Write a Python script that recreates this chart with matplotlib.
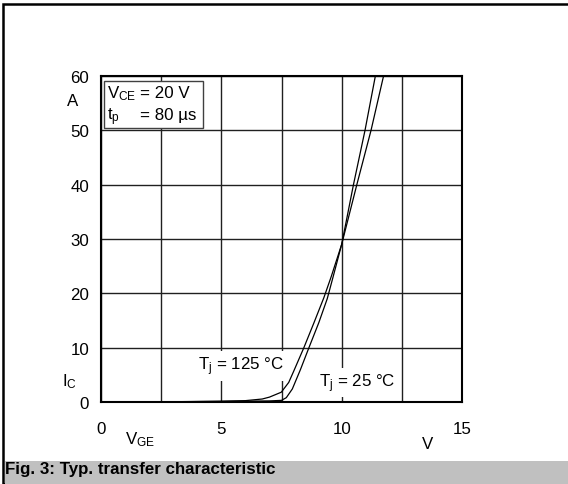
import matplotlib
matplotlib.use("Agg")
import matplotlib.pyplot as plt
from matplotlib.patches import Rectangle

plt.rcParams["font.family"] = ["Liberation Sans", "DejaVu Sans"]
plt.rcParams["mathtext.fontset"] = "custom"
plt.rcParams["mathtext.rm"] = "Liberation Sans"
plt.rcParams["mathtext.it"] = "Liberation Sans"

# Typ. transfer characteristic
vge_25 = [0, 3, 5, 6, 7.0, 7.5, 7.7, 7.95, 8.29, 8.64, 9.05, 9.4, 9.63, 10.0, 10.49, 10.97, 11.40, 11.5]
ic_25 = [0, 0.05, 0.1, 0.15, 0.2, 0.3, 0.8, 2.4, 6.0, 10, 14.6, 19.0, 22.8, 29, 40, 50, 60, 62]

vge_125 = [0, 3, 5, 6, 6.7, 7.0, 7.49, 7.8, 8.01, 8.43, 8.85, 9.26, 9.56, 10.0, 10.63, 11.22, 11.74, 11.85]
ic_125 = [0, 0.05, 0.15, 0.25, 0.55, 0.9, 1.8, 3.6, 5.7, 10, 14.6, 19.2, 23.0, 29, 40, 50, 60, 62]

x_ticks = [0, 5, 10, 15]
y_ticks = [0, 10, 20, 30, 40, 50, 60]

W, H = 568, 485
FS = 12.2


def fx(x):
    return x / W


def fy(y):
    return (H - y) / H


fig = plt.figure(figsize=(W / 100, H / 100), dpi=100)

# Rahmen + graue Bildunterschrift
fig.patches.append(Rectangle((fx(3.5), fy(485)), 1.0, fy(5) - fy(485),
                             transform=fig.transFigure, fill=False,
                             edgecolor="black", linewidth=1.8))
fig.patches.append(Rectangle((fx(4.5), 0), 1.0, fy(462),
                             transform=fig.transFigure, facecolor="#c0c0c0",
                             edgecolor="none"))
fig.text(fx(5), fy(474), "Fig. 3: Typ. transfer characteristic",
         fontsize=FS, fontweight="bold", va="baseline", ha="left")

ax = fig.add_axes([fx(101), fy(403), fx(462) - fx(101), fy(77) - fy(403)])

ax.plot(vge_25, ic_25, color="black", linewidth=0.9, zorder=3)
ax.plot(vge_125, ic_125, color="black", linewidth=0.9, zorder=3)

ax.set_xlim(0, 15)
ax.set_ylim(0, 60)
ax.set_xticks(x_ticks)
ax.set_yticks(y_ticks)
ax.set_xticks([2.5, 7.5, 12.5], minor=True)
ax.tick_params(which="both", length=0, labelsize=FS)
ax.tick_params(axis="x", pad=14)
ax.tick_params(axis="y", pad=8.5)
ax.grid(True, which="both", color="#202020", linewidth=1.0)
ax.set_axisbelow(True)
for sp in ax.spines.values():
    sp.set_linewidth(1.5)

# Bedingungen-Kasten
ax.add_patch(Rectangle((0.12, 50.4), 4.12, 8.6, facecolor="white",
                       edgecolor="#404040", linewidth=1.0, zorder=4))
ax.text(0.26, 56.1, r"V$_{\mathrm{CE}}$", fontsize=FS, va="baseline", zorder=5)
ax.text(1.63, 56.1, "= 20 V", fontsize=FS, va="baseline", zorder=5)
ax.text(0.26, 52.0, r"t$_{\mathrm{p}}$", fontsize=FS, va="baseline", zorder=5)
ax.text(1.63, 52.0, "= 80 µs", fontsize=FS, va="baseline", zorder=5)

box = dict(facecolor="white", edgecolor="none", pad=2.5)
ax.text(4.05, 6.6, r"T$_{\mathrm{j}}$ = 125 °C", fontsize=FS, va="center",
        bbox=box, zorder=4)
ax.text(9.05, 3.6, r"T$_{\mathrm{j}}$ = 25 °C", fontsize=FS, va="center",
        bbox=box, zorder=4)

# Achsenbeschriftungen
fig.text(fx(67), fy(102), "A", fontsize=FS, va="center", ha="left")
fig.text(fx(62), fy(382), r"I$_{\mathrm{C}}$", fontsize=FS, va="center", ha="left")
fig.text(fx(125), fy(440), r"V$_{\mathrm{GE}}$", fontsize=FS, va="center", ha="left")
fig.text(fx(422), fy(445), "V", fontsize=FS, va="center", ha="left")

fig.savefig("out.png", dpi=100)
